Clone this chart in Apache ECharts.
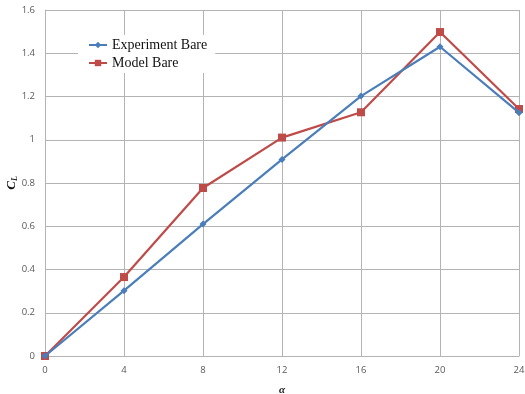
<!DOCTYPE html>
<html>
<head>
<meta charset="utf-8">
<script src="https://cdn.jsdelivr.net/npm/echarts@6/dist/echarts.min.js"></script>
<style>
  html, body { margin: 0; padding: 0; background: #fff; }
  #chart { width: 525px; height: 394px; }
</style>
</head>
<body>
<div id="chart"></div>
<script>
// Angle of attack (deg) and lift coefficient per configuration
const alpha = [0, 4, 8, 12, 16, 20, 24];
const experimentBare = [0, 0.302, 0.610, 0.909, 1.202, 1.430, 1.125];
const modelBare = [0, 0.365, 0.777, 1.010, 1.127, 1.498, 1.142];

const pairs = (xs, ys) => xs.map((x, i) => [x, ys[i]]);

const gridColor = '#b4b4b4';
const tickFont = { color: '#595959', fontSize: 9.5, fontFamily: 'Open Sans, Liberation Sans, sans-serif' };

const chart = echarts.init(document.getElementById('chart'), null, { renderer: 'canvas' });
chart.setOption({
  animation: false,
  backgroundColor: '#ffffff',
  grid: { left: 45, right: 6, top: 10, bottom: 38, containLabel: false, outerBoundsMode: 'none' },
  legend: {
    left: 78, top: 35,
    orient: 'vertical',
    backgroundColor: '#ffffff',
    padding: [3, 8, 3, 10],
    itemGap: 4,
    itemWidth: 18, itemHeight: 8,
    textStyle: { fontFamily: 'Liberation Serif, serif', fontSize: 14, color: '#111' },
    data: ['Experiment Bare', 'Model Bare']
  },
  xAxis: {
    type: 'value', min: 0, max: 24, interval: 4,
    name: 'α', nameLocation: 'middle', nameGap: 29, nameMoveOverlap: false,
    nameTextStyle: { fontFamily: 'Liberation Serif, serif', fontStyle: 'italic', fontWeight: 'bold', fontSize: 11, color: '#222' },
    axisLine: { show: true, lineStyle: { color: gridColor, width: 1 } },
    axisTick: { show: false },
    axisLabel: Object.assign({ margin: 9 }, tickFont),
    splitLine: { show: true, lineStyle: { color: gridColor, width: 1 } }
  },
  yAxis: {
    type: 'value', min: 0, max: 1.6, interval: 0.2,
    name: '{c|C}{s|L}', nameLocation: 'middle', nameGap: 26, nameRotate: 90, nameMoveOverlap: false,
    nameTextStyle: {
      rich: {
        c: { fontFamily: 'Liberation Serif, serif', fontStyle: 'italic', fontWeight: 'bold', fontSize: 13, color: '#111' },
        s: { fontFamily: 'Liberation Serif, serif', fontStyle: 'italic', fontWeight: 'bold', fontSize: 8, color: '#111', verticalAlign: 'bottom', padding: [6, 0, 0, 0] }
      }
    },
    axisLine: { show: true, lineStyle: { color: gridColor, width: 1 } },
    axisTick: { show: false },
    axisLabel: Object.assign({ margin: 10, formatter: v => String(+v.toFixed(1)) }, tickFont),
    splitLine: { show: true, lineStyle: { color: gridColor, width: 1 } }
  },
  series: [
    {
      name: 'Experiment Bare', type: 'line',
      data: pairs(alpha, experimentBare),
      symbol: 'diamond', symbolSize: 7,
      color: '#4a7ebb',
      lineStyle: { width: 2.2, color: '#4a7ebb' },
      itemStyle: { color: '#4a7ebb' },
      z: 3
    },
    {
      name: 'Model Bare', type: 'line',
      data: pairs(alpha, modelBare),
      symbol: 'rect', symbolSize: 8,
      color: '#be4b48',
      lineStyle: { width: 2.2, color: '#be4b48' },
      itemStyle: { color: '#be4b48' },
      z: 2
    }
  ]
});
</script>
</body>
</html>
